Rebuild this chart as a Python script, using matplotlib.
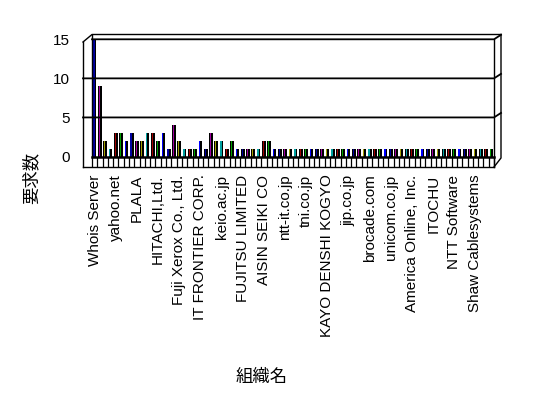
import numpy as np
import matplotlib
matplotlib.use("Agg")
import matplotlib.pyplot as plt
from matplotlib.lines import Line2D

plt.rcParams['font.family'] = ['Liberation Sans', 'Noto Sans CJK JP', 'DejaVu Sans']

# datos: 76 organizaciones, se rotula una de cada cuatro
etiquetas = ["Whois Server", "yahoo.net", "PLALA", "HITACHI,Ltd.",
             "Fuji Xerox Co., Ltd.", "IT FRONTIER CORP.", "keio.ac.jp",
             "FUJITSU LIMITED", "AISIN SEIKI CO", "ntt-it.co.jp", "tni.co.jp",
             "KAYO DENSHI KOGYO", "jip.co.jp", "brocade.com", "unicom.co.jp",
             "America Online, Inc.", "ITOCHU", "NTT Software", "Shaw Cablesystems"]

valores = [15, 9, 2, 1, 3, 3, 2, 3, 2, 2, 3, 3, 2, 3, 1, 4, 2, 1, 1, 1,
           2, 1, 3, 2, 2, 1, 2, 1, 1, 1, 1, 1, 2, 2, 1, 1, 1, 1, 1, 1,
           1, 1, 1, 1, 1, 1, 1, 1, 1, 1, 1, 1, 1, 1, 1, 1, 1, 1, 1, 1,
           1, 1, 1, 1, 1, 1, 1, 1, 1, 1, 1, 1, 1, 1, 1, 1]

N = len(valores)
x = np.arange(N)

paleta = ['#0000a0', '#a000a0', '#a0a000', '#00a0a0', '#a00000', '#00a000', '#0000ff']
colores = [paleta[i % len(paleta)] for i in range(N)]

W, H = 548, 398
fig = plt.figure(figsize=(W / 100, H / 100), dpi=100)

# area del grafico en pixeles
x0, x1 = 92, 494
y0, y1 = 156.5, 39.3
ax = fig.add_axes([x0 / W, 1 - y0 / H, (x1 - x0) / W, (y0 - y1) / H])
ax.patch.set_alpha(0)
for s in ax.spines.values():
    s.set_visible(False)


def linea(px, py, lw=1.0):
    fig.add_artist(Line2D([p / W for p in px], [1 - p / H for p in py],
                          color='black', lw=lw, transform=fig.transFigure))


# marco 3D
linea([83, 92, 501], [42, 34.5, 34.5])
linea([83, 83], [42, 167])
linea([92, 92], [34.5, 157])
linea([501, 501, 494], [34.5, 158, 167])
linea([494, 494], [39.3, 167])
linea([83, 494], [167, 167])
linea([92, 494], [157, 157], lw=1.8)

# lineas de la cuadricula
py_unidad = (y0 - y1) / 15
for v in [5, 10, 15]:
    py = y0 - v * py_unidad
    ini = 92 if v == 15 else 83
    linea([ini, 494, 501], [py, py, py - 4.5], lw=1.3)

# divisiones del piso
ax.vlines(np.arange(N + 1) - 0.5, -10 / (y0 - y1), 0, color='black', lw=0.9,
          transform=ax.get_xaxis_transform(), clip_on=False)

# barras: cuerpo oscuro y cara frontal de color
ax.bar(x, valores, width=0.7, color='black', linewidth=0, zorder=3)
ax.bar(x - 0.12, valores, width=0.22, color=colores, linewidth=0, zorder=4)

ax.set_xlim(-0.5, N - 0.5)
ax.set_ylim(0, 15)
ax.set_yticks([0, 5, 10, 15])
ax.set_xticks(x[::4])
ax.set_xticklabels(etiquetas, rotation=90, fontsize=11)
ax.tick_params(axis='y', length=0, pad=16, labelsize=11)
ax.tick_params(axis='x', length=0, pad=13)

fig.text(31 / W, 1 - 178 / H, "要求数", rotation=90, fontsize=12.5,
         ha='center', va='center')
fig.text(262 / W, 1 - 377 / H, "組織名", fontsize=12.5, ha='center', va='center')

fig.savefig("out.png", dpi=100)
